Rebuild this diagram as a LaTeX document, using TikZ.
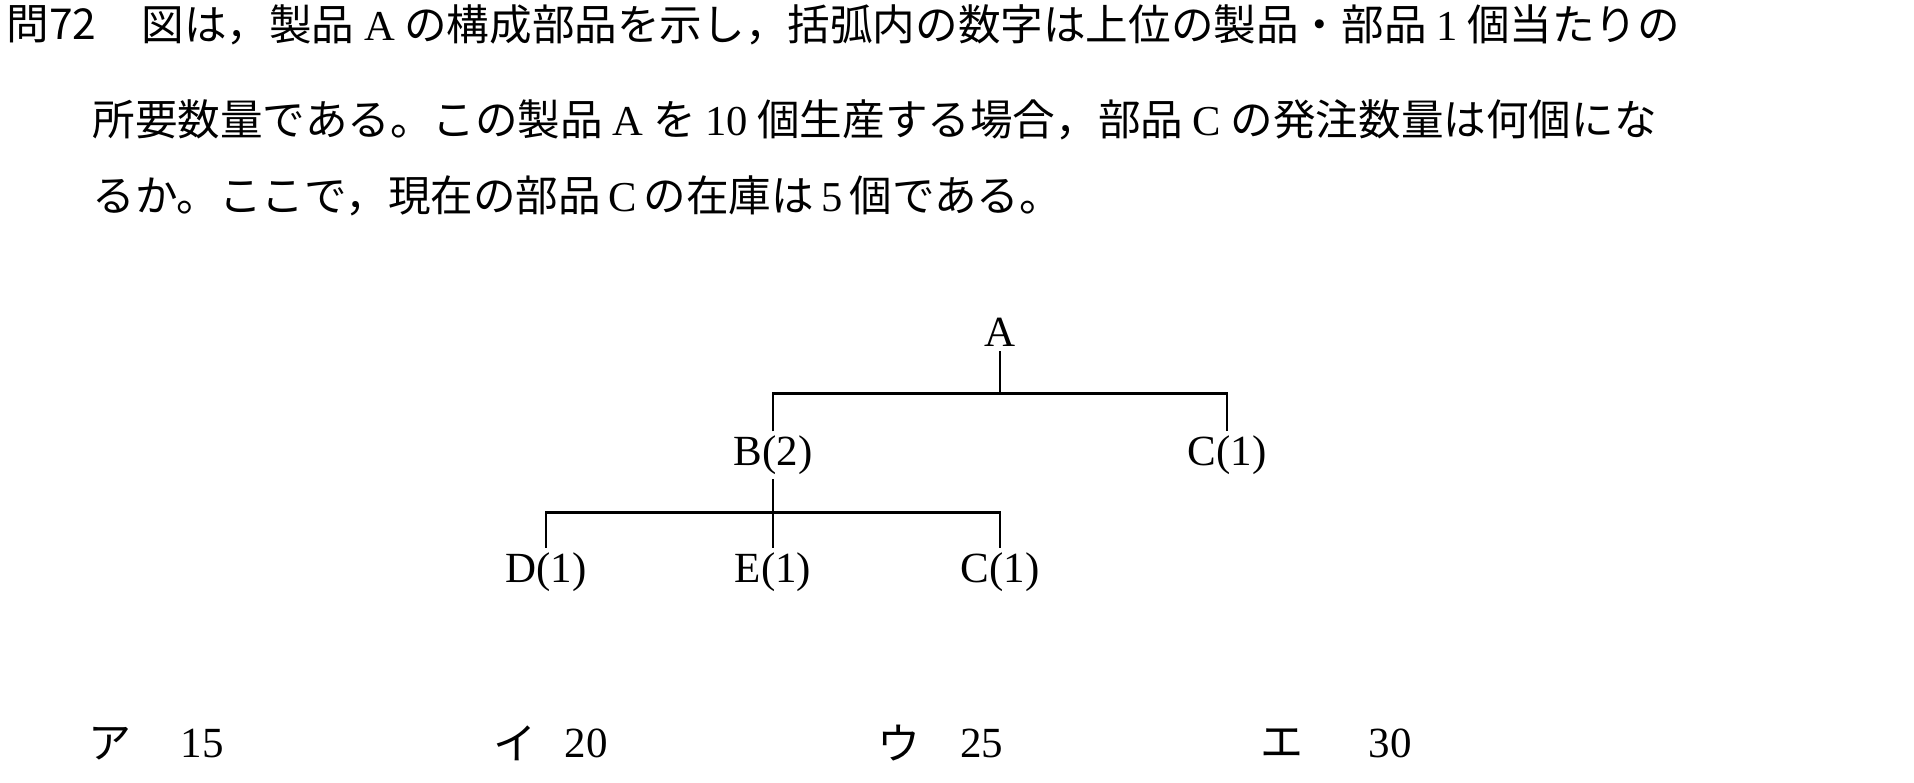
\documentclass[tikz,border=0pt]{standalone}
\usepackage{fontspec}
\setmainfont{Liberation Serif}
\newfontfamily\jp{Noto Sans CJK JP}
\usetikzlibrary{positioning}
\newcommand{\rom}[1]{{\rmfamily #1}}
\tikzset{
  qtext/.style = {anchor=west, inner sep=0pt, font=\jp\fontsize{21.3}{25}\selectfont},
  part/.style = {inner sep=2pt, font=\fontsize{21.5}{25}\selectfont},
  link/.style = {line width=1.4pt},
  choice/.style = {inner sep=0pt, font=\fontsize{21.5}{25}\selectfont}
}

\begin{document}
\begin{tikzpicture}[x=0.6135pt, y=-0.6135pt]

  \useasboundingbox (0,0) rectangle (1560,638);

  %% Question text
  \node[qtext] (qno) at (5,20) {問72};
  \node[qtext] (q1) at (115,20) {図は，製品 \rom{A} の構成部品を示し，括弧内の数字は上位の製品・部品 \rom{1} 個当たりの};
  \node[qtext] (q2) at (75,98) {所要数量である。この製品 \rom{A} を \rom{10} 個生産する場合，部品 \rom{C} の発注数量は何個にな};
  \node[qtext] (q3) at (75,160) {るか。ここで，現在の部品\,\rom{C}\,の在庫は\,\rom{5}\,個である。};

  %% Parts tree
  \node[part] (a) at (815,271) {A};
  \node[part] (b) at (630,371) {B(2)};
  \node[part] (c1) at (1000,371) {C(1)};
  \node[part] (d) at (445,466) {D(1)};
  \node[part] (e) at (630,466) {E(1)};
  \node[part] (c2) at (815,466) {C(1)};

  % Bars
  \coordinate (top bar) at (0,321);
  \coordinate (low bar) at (0,418);

  \draw[link] (a.south) -- (a |- top bar);
  \draw[link] (b.north) -- (b |- top bar) -- (c1 |- top bar) -- (c1.north);
  \draw[link] (b.south) -- (e.north);
  \draw[link] (d.north) -- (d |- low bar) -- (c2 |- low bar) -- (c2.north);

  %% Answer choices
  \node[choice] (ka) at (90,606) {\jp ア};
  \node[choice] (va) at (165,606) {15};
  \node[choice] (ki) at (420,606) {\jp イ};
  \node[choice] (vi) at (478,606) {20};
  \node[choice] (ku) at (733,606) {\jp ウ};
  \node[choice] (vu) at (800,606) {25};
  \node[choice] (ke) at (1045,606) {\jp エ};
  \node[choice] (ve) at (1133,606) {30};

\end{tikzpicture}
\end{document}
